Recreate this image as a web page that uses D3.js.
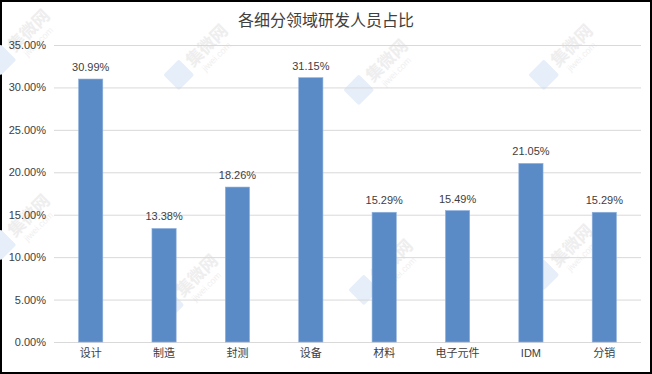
<!DOCTYPE html>
<html>
<head>
<meta charset="utf-8">
<script src="https://cdn.jsdelivr.net/npm/d3@7"></script>
<style>
  html, body { margin: 0; padding: 0; background: #fff; }
  svg { display: block; }
  text { font-family: "Liberation Sans", Arial, "Noto Sans CJK SC", sans-serif; }
</style>
</head>
<body>
<svg width="652" height="374"></svg>
<script>
// chart values
const categories = ['设计', '制造', '封测', '设备', '材料', '电子元件', 'IDM', '分销'];
const shares = [30.99, 13.38, 18.26, 31.15, 15.29, 15.49, 21.05, 15.29];
const yTicks = [0, 5, 10, 15, 20, 25, 30, 35];
const title = '各细分领域研发人员占比';

const svg = d3.select('svg');
const W = 652, H = 374;
const margin = { top: 45, right: 11, bottom: 32, left: 54 };

// outer frame
svg.append('rect')
  .attr('x', 1).attr('y', 1)
  .attr('width', W - 2).attr('height', H - 2)
  .attr('fill', '#fff')
  .attr('stroke', '#000')
  .attr('stroke-width', 2);

// faint watermarks
const marks = [[22, 40], [200, 55], [380, 70], [565, 55], [22, 225], [190, 285], [385, 270], [565, 255]];
const wm = svg.append('g').attr('class', 'watermarks');
marks.forEach(m => {
  const g = wm.append('g').attr('transform', `translate(${m[0]},${m[1]}) rotate(-45)`);
  g.append('rect').attr('x', -40).attr('y', -12).attr('width', 22).attr('height', 22)
    .attr('rx', 2).attr('fill', '#e6eef9');
  g.append('text').attr('x', -14).attr('y', 4).attr('fill', '#eeeeee')
    .style('font-family', 'Noto Sans CJK SC').style('font-size', '17px').style('font-weight', 'bold')
    .text('集微网');
  g.append('text').attr('x', -8).attr('y', 16).attr('fill', '#f0f0f0')
    .style('font-size', '9px').text('jiwei.com');
});

const x = d3.scaleBand()
  .domain(categories)
  .range([margin.left, W - margin.right])
  .paddingInner(0.67)
  .paddingOuter(0.335);

const y = d3.scaleLinear()
  .domain([0, 35])
  .range([H - margin.bottom, margin.top]);

// gridlines
svg.append('g').attr('class', 'grid')
  .selectAll('line')
  .data(yTicks)
  .enter()
  .append('line')
  .attr('x1', margin.left)
  .attr('x2', W - margin.right)
  .attr('y1', d => y(d) + 0.5)
  .attr('y2', d => y(d) + 0.5)
  .attr('stroke', '#d9d9d9')
  .attr('stroke-width', 1);

// y axis labels
const yAxis = d3.axisLeft(y)
  .tickValues(yTicks)
  .tickFormat(d => d.toFixed(2) + '%')
  .tickSize(0)
  .tickPadding(8);
svg.append('g')
  .attr('transform', `translate(${margin.left},0)`)
  .call(yAxis)
  .call(g => g.select('.domain').remove())
  .call(g => g.selectAll('text')
    .attr('fill', '#404040')
    .style('font-size', '11px')
    .style('font-family', '"Liberation Sans", Arial, sans-serif'));

// x axis labels
const xAxis = d3.axisBottom(x).tickSize(0).tickPadding(7);
svg.append('g')
  .attr('transform', `translate(0,${H - margin.bottom})`)
  .call(xAxis)
  .call(g => g.select('.domain').remove())
  .call(g => g.selectAll('text')
    .attr('fill', '#404040')
    .style('font-size', '11px')
    .style('font-family', '"Liberation Sans", "Noto Sans CJK SC", sans-serif'));

// bars
svg.append('g').attr('class', 'bars')
  .selectAll('rect')
  .data(shares)
  .enter()
  .append('rect')
  .attr('x', (d, i) => x(categories[i]))
  .attr('y', d => y(d))
  .attr('width', x.bandwidth())
  .attr('height', d => y(0) - y(d))
  .attr('fill', '#5b8bc6')
  .attr('stroke', '#8fb0dc')
  .attr('stroke-width', 0.6);

// value labels
svg.append('g').attr('class', 'labels')
  .selectAll('text')
  .data(shares)
  .enter()
  .append('text')
  .attr('x', (d, i) => x(categories[i]) + x.bandwidth() / 2)
  .attr('y', d => y(d) - 8)
  .style('text-anchor', 'middle')
  .style('font-size', '11px')
  .attr('fill', '#404040')
  .text(d => d.toFixed(2) + '%');

// title
svg.append('text')
  .attr('x', W / 2)
  .attr('y', 26)
  .style('text-anchor', 'middle')
  .style('font-family', '"Noto Sans CJK SC", sans-serif')
  .style('font-size', '16px')
  .attr('fill', '#404040')
  .text(title);
</script>
</body>
</html>
